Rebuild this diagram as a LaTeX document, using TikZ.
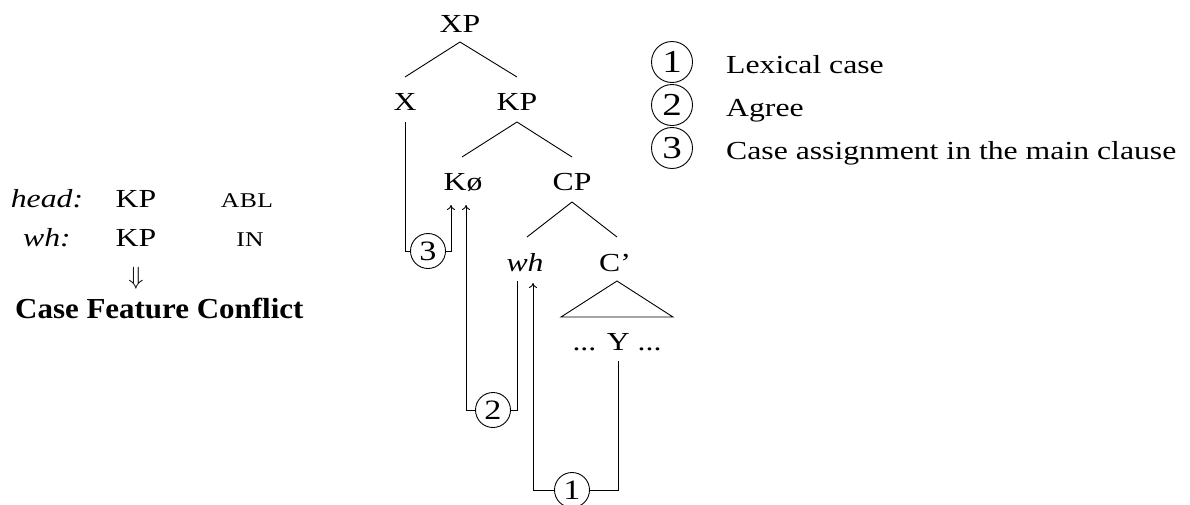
\documentclass[tikz,border=0pt]{standalone}
\usepackage{fontspec}
\setmainfont[FakeStretch=1.22]{Liberation Serif}
\usetikzlibrary{arrows.meta,calc}

\begin{document}
\begin{tikzpicture}[x=1pt,y=-1pt,
  every node/.style={font=\fontsize{26}{31}\selectfont, inner sep=0pt},
  lbl/.style={anchor=base},
  branch/.style={line width=0.9pt},
  link/.style={line width=0.9pt},
  linkarrow/.style={line width=0.9pt, -{To[length=5pt,width=8pt]}},
  num/.style={circle, draw, line width=0.9pt, minimum size=35pt, font=\fontsize{28}{31}\selectfont},
  keynum/.style={circle, draw, line width=0.9pt, minimum size=41pt, font=\fontsize{32}{34}\selectfont},
  sc/.style={font=\fontsize{21}{24}\selectfont\addfontfeature{LetterSpace=2}}
]
\useasboundingbox (0,0) rectangle (1190,504);

% ---- tree ----
\node[lbl] (XP) at (460,32) {XP};
\node[lbl] (X)  at (405,110) {X};
\node[lbl] (KP) at (517,110) {KP};
\node[lbl] (K)  at (463,190) {Kø};
\node[lbl] (CP) at (572,190) {CP};
\node[lbl] (wh) at (525,271) {\itshape wh};
\node[lbl] (Cb) at (615,271) {C’};
\node[lbl] (Y)  at (617,350) {... Y ...};

\draw[branch] ([yshift=-10pt]XP.base) -- ([yshift=33pt]X.base);
\draw[branch] ([yshift=-10pt]XP.base) -- ([yshift=33pt]KP.base);
\draw[branch] ([yshift=-12pt]KP.base) -- ([xshift=-1pt,yshift=33pt]K.base);
\draw[branch] ([yshift=-12pt]KP.base) -- ([yshift=33pt]CP.base);
\draw[branch] ([yshift=-12pt]CP.base) -- ([xshift=2pt,yshift=34pt]wh.base);
\draw[branch] ([yshift=-12pt]CP.base) -- ([xshift=2pt,yshift=34pt]Cb.base);
% triangle over the C' constituent
\draw[branch] ([yshift=-10pt,xshift=2pt]Cb.base)
  -- ([xshift=-56pt,yshift=33pt]Y.base)
  -- ([xshift=56pt,yshift=33pt]Y.base) -- cycle;

% ---- numbered links ----
\node[num] (n3) at (428,251) {3};
\node[num] (n2) at (493,410) {2};
\node[num] (n1) at (572,490) {1};

\coordinate (k3) at ([xshift=-12pt,yshift=-15pt]K.base);
\coordinate (k2) at ([xshift=3pt,yshift=-15pt]K.base);
\coordinate (w1) at ([xshift=8pt,yshift=-12pt]wh.base);

\draw[link] ([yshift=-12pt]X.base) |- (n3.west);
\draw[linkarrow] (n3.east) -| (k3);

\draw[link] ([xshift=-8pt,yshift=-10pt]wh.base) |- (n2.east);
\draw[linkarrow] (n2.west) -| (k2);

\draw[link] ([xshift=1pt,yshift=-11pt]Y.base) |- (n1.east);
\draw[linkarrow] (n1.west) -| (w1);

% ---- key ----
\node[keynum] (c1) at (672,62) {1};
\node[keynum] (c2) at (672,105) {2};
\node[keynum] (c3) at (672,148) {3};
\node[anchor=base west] (t1) at (726,73) {Lexical case};
\node[anchor=base west] (t2) at (726,116) {Agree};
\node[anchor=base west] (t3) at (726,159) {Case assignment in the main clause};

% ---- feature clash ----
\node[lbl] (hd)  at (47,207) {\itshape head:};
\node[lbl] (hkp) at (136,207) {KP};
\node[lbl,sc] (abl) at (247,207) {ABL};
\node[lbl] (wl)  at (47,246) {\itshape wh:};
\node[lbl] (wkp) at (136,246) {KP};
\node[lbl,sc] (inn) at (250,246) {IN};
\node (dn) at (136,278) {$\Downarrow$};
\node[anchor=base west,font=\fontsize{29}{33}\selectfont\bfseries] (cfc) at (15,318)
  {\scalebox{0.875}[1]{Case Feature Conflict}};
\end{tikzpicture}
\end{document}
